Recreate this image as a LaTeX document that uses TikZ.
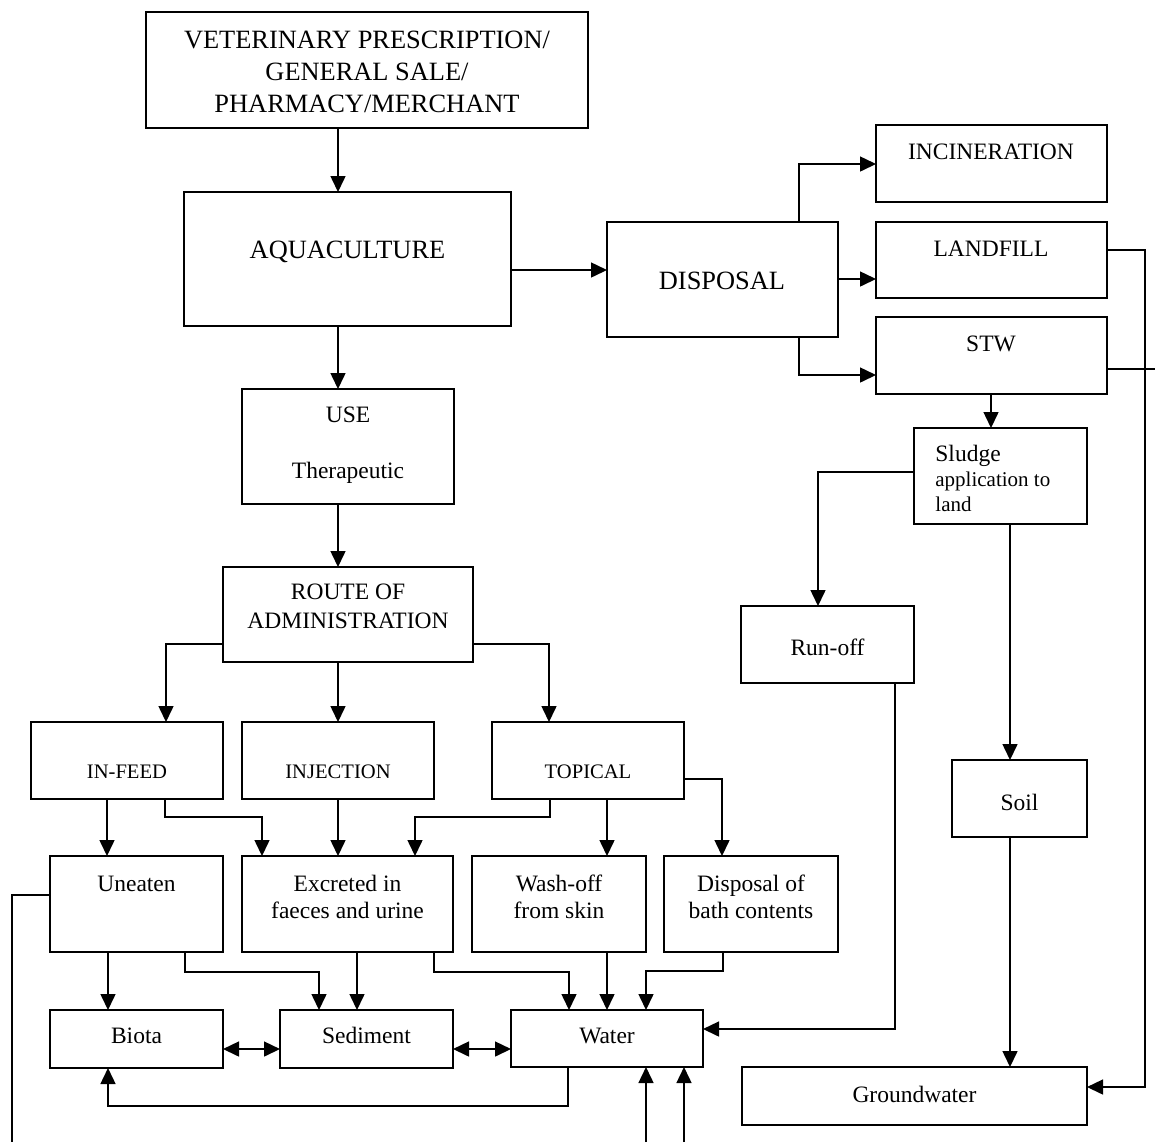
\documentclass[tikz,border=0pt]{standalone}
\usepackage{fontspec}
\setmainfont{Liberation Serif}
\usetikzlibrary{arrows.meta}
\newcommand\mybox[5]{\node[box, minimum width={(#4-#2)*0.5pt}, minimum height={(#5-#3)*0.5pt}] (#1) at ({(#2+#4)/2},{(#3+#5)/2}) {};}
\begin{document}
\begin{tikzpicture}[x=0.5pt,y=-0.5pt,
  box/.style={draw, line width=0.75pt, inner sep=0pt, outer sep=0pt},
  t/.style={inner sep=0pt, anchor=base, font=\fontsize{11.75}{14}\selectfont},
  tb/.style={t, font=\fontsize{13.2}{16}\selectfont},
  ts/.style={t, font=\fontsize{10.3}{12}\selectfont},
  ln/.style={line width=0.75pt},
  ar/.style={line width=0.75pt, -{Triangle[length=8pt,width=7.5pt]}},
  da/.style={line width=0.75pt, {Triangle[length=8pt,width=7.5pt]}-{Triangle[length=8pt,width=7.5pt]}}
]
\useasboundingbox (0,0) rectangle (1155,1142);

% boxes
\mybox{vet}{146}{12}{588}{128}
\mybox{aqua}{184}{192}{511}{326}
\mybox{disp}{607}{222}{838}{337}
\mybox{inc}{876}{125}{1107}{202}
\mybox{land}{876}{222}{1107}{298}
\mybox{stw}{876}{317}{1107}{394}
\mybox{sludge}{914}{428}{1087}{524}
\mybox{runoff}{741}{606}{914}{683}
\mybox{soil}{952}{760}{1087}{837}
\mybox{gw}{742}{1067}{1087}{1125}
\mybox{use}{242}{389}{454}{504}
\mybox{route}{223}{567}{473}{662}
\mybox{infeed}{31}{722}{223}{799}
\mybox{inj}{242}{722}{434}{799}
\mybox{topical}{492}{722}{684}{799}
\mybox{une}{50}{856}{223}{952}
\mybox{exc}{242}{856}{453}{952}
\mybox{wash}{472}{856}{646}{952}
\mybox{bath}{664}{856}{838}{952}
\mybox{biota}{50}{1010}{223}{1068}
\mybox{sed}{280}{1010}{453}{1068}
\mybox{water}{511}{1010}{703}{1067}

% texts
\node[tb] (vet1) at (367,48) {VETERINARY PRESCRIPTION/};
\node[tb] (vet2) at (367,80) {GENERAL SALE/};
\node[tb] (vet3) at (367,112) {PHARMACY/MERCHANT};
\node[tb] (aquat) at (347.5,258) {AQUACULTURE};
\node[tb] (dispt) at (722,289) {DISPOSAL};
\node[t] (inct) at (991,159) {INCINERATION};
\node[t] (landt) at (991,256) {LANDFILL};
\node[t] (stwt) at (991,351) {STW};
\node[t, anchor=base west] (sl1) at (935,461.5) {Sludge};
\node[t, anchor=base west, font=\fontsize{10.5}{12}\selectfont] (sl2) at (935,486.5) {application to};
\node[t, anchor=base west, font=\fontsize{10.5}{12}\selectfont] (sl3) at (935,511.5) {land};
\node[t] (runofft) at (827.5,655) {Run-off};
\node[t] (soilt) at (1019.5,810) {Soil};
\node[t] (gwt) at (914.5,1102) {Groundwater};
\node[t] (uset1) at (348,422) {USE};
\node[t] (uset2) at (348,478) {Therapeutic};
\node[t] (routet1) at (348,599) {ROUTE OF};
\node[t] (routet2) at (348,628) {ADMINISTRATION};
\node[ts] (infeedt) at (127,778) {IN-FEED};
\node[ts] (injt) at (338,778) {INJECTION};
\node[ts] (topicalt) at (588,778) {TOPICAL};
\node[t] (unet) at (136.5,891) {Uneaten};
\node[t] (exct1) at (347.5,891) {Excreted in};
\node[t] (exct2) at (347.5,918) {faeces and urine};
\node[t] (washt1) at (559,891) {Wash-off};
\node[t] (washt2) at (559,918) {from skin};
\node[t] (batht1) at (751,891) {Disposal of};
\node[t] (batht2) at (751,918) {bath contents};
\node[t] (biotat) at (136.5,1043) {Biota};
\node[t] (sedt) at (366.5,1043) {Sediment};
\node[t] (watert) at (607,1043) {Water};

% free ends
\coordinate (stwend) at (1155,369);
\coordinate (uneend) at (12,1142);
\coordinate (w1) at (646,1142);
\coordinate (w2) at (684,1142);

% connectors
\draw[ar] (vet.south -| 338,0) -- (aqua.north -| 338,0);
\draw[ar] (aqua.east |- 0,270) -- (disp.west |- 0,270);
\draw[ar] (disp.north -| 799,0) |- (inc.west |- 0,164);
\draw[ar] (disp.east |- 0,279) -- (land.west |- 0,279);
\draw[ar] (disp.south -| 799,0) |- (stw.west |- 0,375);
\draw[ar] (land.east |- 0,250) -| (1145,1087) -- (gw.east |- 0,1087);
\draw[ln] (stw.east |- 0,369) -- (stwend);
\draw[ar] (stw.south -| 991,0) -- (sludge.north -| 991,0);
\draw[ar] (sludge.west |- 0,472) -| (runoff.north -| 818,0);
\draw[ar] (sludge.south -| 1010,0) -- (soil.north -| 1010,0);
\draw[ar] (soil.south -| 1010,0) -- (gw.north -| 1010,0);
\draw[ar] (runoff.south -| 895,0) |- (water.east |- 0,1029);

\draw[ar] (aqua.south -| 338,0) -- (use.north -| 338,0);
\draw[ar] (use.south -| 338,0) -- (route.north -| 338,0);
\draw[ar] (route.west |- 0,644) -| (infeed.north -| 166,0);
\draw[ar] (route.south -| 338,0) -- (inj.north -| 338,0);
\draw[ar] (route.east |- 0,644) -| (topical.north -| 549,0);

\draw[ar] (infeed.south -| 107,0) -- (une.north -| 107,0);
\draw[ar] (infeed.south -| 165,0) -- (165,817) -| (exc.north -| 262,0);
\draw[ar] (inj.south -| 338,0) -- (exc.north -| 338,0);
\draw[ar] (topical.south -| 550,0) -- (550,817) -| (exc.north -| 415,0);
\draw[ar] (topical.south -| 607,0) -- (wash.north -| 607,0);
\draw[ar] (topical.east |- 0,779) -| (bath.north -| 722,0);

\draw[ar] (une.south -| 108,0) -- (biota.north -| 108,0);
\draw[ar] (une.south -| 185,0) -- (185,972) -| (sed.north -| 319,0);
\draw[ar] (exc.south -| 357,0) -- (sed.north -| 357,0);
\draw[ar] (exc.south -| 434,0) -- (434,972) -| (water.north -| 569,0);
\draw[ar] (wash.south -| 607,0) -- (water.north -| 607,0);
\draw[ar] (bath.south -| 723,0) -- (723,971) -| (water.north -| 646,0);

\draw[da] (biota.east |- 0,1049) -- (sed.west |- 0,1049);
\draw[da] (sed.east |- 0,1049) -- (water.west |- 0,1049);
\draw[ar] (water.south -| 568,0) -- (568,1106) -| (biota.south -| 108,0);
\draw[ln] (une.west |- 0,895) -| (uneend);
\draw[ar] (w1) -- (water.south -| w1);
\draw[ar] (w2) -- (water.south -| w2);
\end{tikzpicture}
\end{document}
